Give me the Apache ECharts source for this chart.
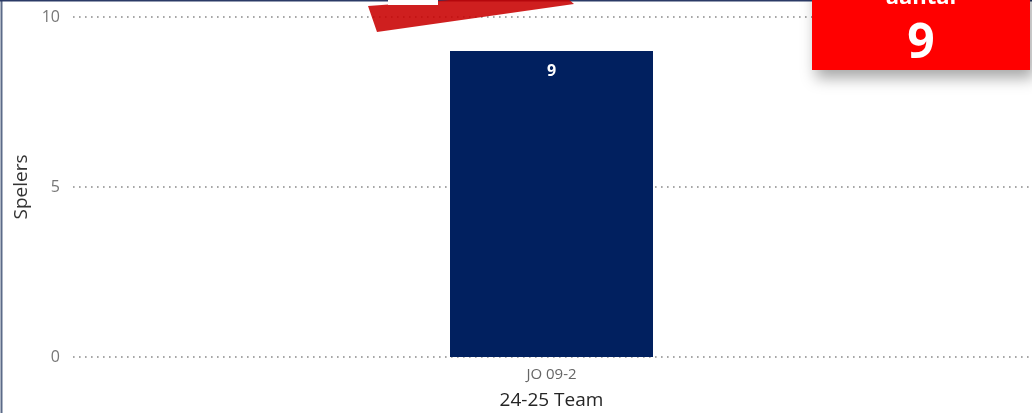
<!DOCTYPE html>
<html>
<head>
<meta charset="utf-8">
<script src="https://cdn.jsdelivr.net/npm/echarts@6/dist/echarts.min.js"></script>
<style>html,body{margin:0;padding:0;background:#fff;}#c{width:1032px;height:413px;}</style>
</head>
<body>
<div id="c"></div>
<script>
const categories = ['JO 09-2'];
const values = [9];
const yTicks = { min: 0, max: 10, interval: 5 };
const cardTitle = 'aantal';
const cardValue = '9';
const xTitle = '24-25 Team';
const yTitle = 'Spelers';

const chart = echarts.init(document.getElementById('c'), null, { renderer: 'canvas' });
const font = '"Open Sans", "Noto Sans", sans-serif';
chart.setOption({
  animation: false,
  backgroundColor: '#ffffff',
  grid: { left: 73, right: 2, top: 17, bottom: 56, outerBoundsMode: 'none', containLabel: false },
  xAxis: {
    type: 'category',
    data: categories,
    axisLine: { show: false },
    axisTick: { show: false },
    axisLabel: { color: '#666', fontSize: 15, fontFamily: font, margin: 10 },
    name: xTitle,
    nameLocation: 'middle',
    nameGap: 34,
    nameTextStyle: { color: '#252525', fontSize: 19, fontFamily: font }
  },
  yAxis: {
    type: 'value',
    min: yTicks.min, max: yTicks.max, interval: yTicks.interval,
    axisLine: { show: false },
    axisTick: { show: false },
    axisLabel: { color: '#777', fontSize: 16, fontFamily: font, margin: 13 },
    splitLine: { lineStyle: { color: '#8a8a8a', type: [1.6, 4.4], width: 1.5 } },
    name: yTitle,
    nameLocation: 'middle',
    nameRotate: 90,
    nameGap: 41,
    nameTextStyle: { color: '#333', fontSize: 19, fontFamily: font }
  },
  series: [{
    type: 'bar',
    data: values,
    barWidth: 203,
    itemStyle: { color: '#01205f' },
    label: {
      show: true, position: 'insideTop', distance: 12,
      color: '#fff', fontWeight: 'bold', fontSize: 16, fontFamily: font
    }
  }],
  graphic: [
    { type: 'line', z: 100, shape: { x1: 1.5, y1: 0, x2: 1.5, y2: 413 }, style: { stroke: '#5b6a88', lineWidth: 2 } },
    { type: 'line', z: 100, shape: { x1: 0, y1: 0.5, x2: 1032, y2: 0.5 }, style: { stroke: '#2b3a66', lineWidth: 2 } },
    { type: 'polygon', z: 110, shape: { points: [[368, 6], [560, -8], [574, 4], [377, 32]] }, style: { fill: '#c80000', opacity: 0.88 } },
    { type: 'rect', z: 111, shape: { x: 388, y: -4, width: 50, height: 9 }, style: { fill: '#ffffff' } },
    { type: 'rect', z: 120, shape: { x: 812, y: -20, width: 218, height: 90 },
      style: { fill: '#ff0000', shadowBlur: 14, shadowOffsetX: 4, shadowOffsetY: 8, shadowColor: 'rgba(0,0,0,0.35)' } },
    { type: 'text', z: 121, x: 921, y: -2, style: { text: cardTitle, fill: '#fff', font: 'bold 22px ' + font, textAlign: 'center', textVerticalAlign: 'middle' } },
    { type: 'text', z: 121, x: 921, y: 44, style: { text: cardValue, fill: '#fff', font: 'bold 48px ' + font, textAlign: 'center', textVerticalAlign: 'middle' } }
  ]
});
</script>
</body>
</html>
